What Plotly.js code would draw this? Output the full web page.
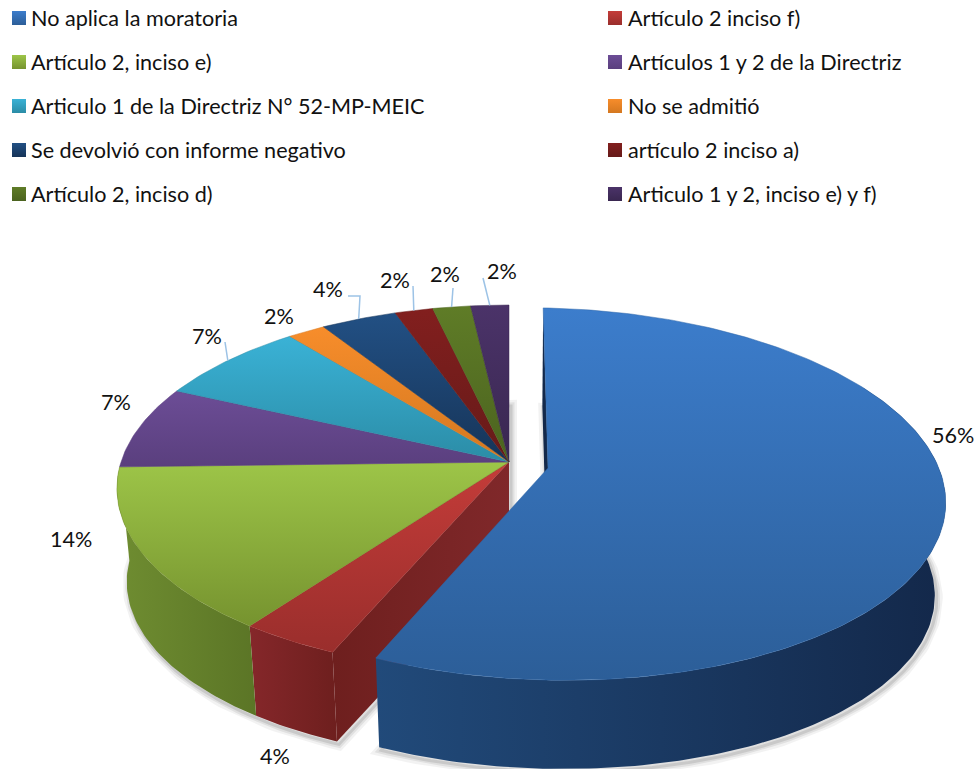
<!DOCTYPE html>
<html>
<head>
<meta charset="utf-8">
<script src="https://cdn.plot.ly/plotly-3.0.1.min.js"></script>
<style>html,body{margin:0;padding:0;background:#fff}#c{width:976px;height:769px}</style>
</head>
<body>
<div id="c"></div>
<script>
// ---------- data ----------
const categories = ["No aplica la moratoria","Artículo 2 inciso f)","Artículo 2, inciso e)","Artículos 1 y 2 de la Directriz","Articulo 1 de la Directriz N° 52-MP-MEIC","No se admitió","Se devolvió con informe negativo","artículo 2 inciso a)","Artículo 2, inciso d)","Articulo 1 y 2, inciso e) y f)"];
const values = [56.4,3.6,14.5,7.3,7.3,1.8,3.6,1.8,1.8,1.8];
const percentLabels = ["56%","4%","14%","7%","7%","2%","4%","2%","2%","2%"];

// ---------- styles ----------
const topLight = ["#3C7DCC","#C43C39","#9DC548","#6C4D96","#3AB2D6","#F78D2B","#225084","#821F1E","#5F7C27","#4B3369"];
const topDark  = ["#2C5E98","#9A2E2C","#76932F","#5A3F7E","#2B8CA6","#D47820","#163458","#661A19","#4B631F","#392750"];
const sideLight = ["#214A7A","#85272A","#6F8D31"];
const sideDark  = ["#13284A","#6E1F1E","#5B7526"];
const leaderColor = "#9DC3E6";
const textFont = {family:"Lato, Carlito, sans-serif", size:21.6, color:"#111"};

// ---------- geometry ----------
const total = values.reduce((a,b)=>a+b,0);
const cum = [0]; values.forEach((v,i)=>cum.push(cum[i]+v/total*360));
const mainG = {cx:509, cy:462, rx:388, ry:179.6, k:0.144, sh:0, ty:0};
const blueG = {cx:548, cy:468, rx:393, ry:182.5, k:0.14, sh:0.014, ty:6};
const DEPTH = 94, BS = 0.975, VX = 510;
function proj(g, deg, r, bottom){
  const a = deg*Math.PI/180, u = Math.sin(a)*r, v = Math.cos(a)*r;
  const s = 1/(1+g.k*v);
  let x = g.cx + g.rx*s*(u - g.sh*v), y = g.cy - g.ry*v*s + g.ty*u;
  if(bottom){ x = VX + (x-VX)*BS; y = g.cy + (y-g.cy)*BS + DEPTH; }
  return [x,y];
}
function arc(g,a0,a1,bottom){
  const n = Math.max(2,Math.ceil(Math.abs(a1-a0))), out=[];
  for(let i=0;i<=n;i++) out.push(proj(g,a0+(a1-a0)*i/n,1,bottom));
  return out;
}
function poly(pts, name, fill, extra){
  return Object.assign({type:"scatter",mode:"lines",x:pts.map(p=>p[0]),y:pts.map(p=>p[1]),
    fill:"toself",line:{width:0},fillcolor:"rgba(0,0,0,0)",name:name,hoverinfo:"skip",showlegend:false},fill,extra||{});
}
const grad = (type,c0,c1)=>({fillgradient:{type:type,colorscale:[[0,c0],[1,c1]]}});
const close = p=>p.concat([p[0]]);
const traces = [];

// soft shadows from the bottom planes
function shadow(g,a0,a1,name){
  const pts = close([proj(g,0,0,true)].concat(arc(g,a0,a1,true))).map(p=>[p[0]+2,p[1]+3]);
  [[12,0.05],[7,0.07],[3,0.10]].forEach(([w,o])=>{
    traces.push({type:"scatter",mode:"lines",x:pts.map(p=>p[0]),y:pts.map(p=>p[1]),
      line:{width:w,color:"rgba(0,0,0,"+o+")"},hoverinfo:"skip",showlegend:false,name:name});
  });
}
shadow(mainG,cum[1],360,"sombra");
shadow(blueG,0,cum[1],"sombra");

// main group: cut face of the red slice, outer walls
const apexT = proj(mainG,0,0,false), apexB = proj(mainG,0,0,true);
const c1T = proj(mainG,cum[1],1,false), c1B = proj(mainG,cum[1],1,true);
traces.push(poly([apexT,c1T,c1B,apexB,apexT],categories[1],grad("horizontal",sideDark[1],"#80282A")));
traces.push(poly(close(arc(mainG,cum[1],cum[2],false).concat(arc(mainG,cum[2],cum[1],true))),categories[1],grad("horizontal",sideLight[1],sideDark[1])));
traces.push(poly(close(arc(mainG,cum[2],Math.min(cum[3],285),false).concat(arc(mainG,Math.min(cum[3],285),cum[2],true))),categories[2],grad("horizontal",sideLight[2],sideDark[2])));
// main group: top faces
for(let i=1;i<values.length;i++){
  const pts = close([apexT].concat(arc(mainG,cum[i],cum[i+1],false)));
  traces.push(poly(pts,categories[i],grad("vertical",topDark[i],topLight[i]),{line:{width:0.5,color:topDark[i]}}));
}
// blue slice: back cut face, outer wall, top face
const bA = proj(blueG,0,0,false), bAB = proj(blueG,0,0,true), b0 = proj(blueG,0,1,false), b0B = proj(blueG,0,1,true);
traces.push(poly([b0,bA,bAB,b0B,b0],categories[0],{fillcolor:"#14294A"}));
traces.push(poly(close(arc(blueG,60,cum[1],false).concat(arc(blueG,cum[1],60,true))),categories[0],grad("horizontal",sideLight[0],sideDark[0])));
traces.push(poly(close([bA].concat(arc(blueG,0,cum[1],false))),categories[0],grad("vertical",topDark[0],topLight[0]),{line:{width:0.5,color:"#2F66A8"}}));

// legend squares
const legendRows = [18,62,106,150,194], legendCols = [19,615], legendTextX = [30,627];
const pos = categories.map((c,i)=>({col:i%2,row:Math.floor(i/2)}));
traces.push({type:"scatter",mode:"markers",x:pos.map(p=>legendCols[p.col]),y:pos.map(p=>legendRows[p.row]),
  marker:{symbol:"square",size:14,color:topLight,gradient:{type:"vertical",color:topDark},line:{width:0}},
  hoverinfo:"skip",showlegend:false,name:"leyenda"});

// leader lines
const leaderEnds = {4:[[225,342]],6:[[348,296],[360,296]],7:[[413,286]],8:[[453,288]],9:[[483,278]]};
Object.keys(leaderEnds).forEach(k=>{
  const i=+k, a=(cum[i]+cum[i+1])/2, e=proj(mainG,a,1,false);
  const pts=leaderEnds[k].concat([e]);
  traces.push({type:"scatter",mode:"lines",x:pts.map(p=>p[0]),y:pts.map(p=>p[1]),line:{width:1.5,color:leaderColor},hoverinfo:"skip",showlegend:false,name:"guía"});
});

// text
const labelPos = [[953,435],[275,756],[71,539],[116,402],[207,336],[279,316],[328,289],[395,280],[445,274],[502,271]];
const annotations = [];
categories.forEach((c,i)=>annotations.push({x:legendTextX[pos[i].col],y:legendRows[pos[i].row],text:c,xanchor:"left",yanchor:"middle",showarrow:false,font:textFont,borderpad:0}));
percentLabels.forEach((t,i)=>annotations.push({x:labelPos[i][0],y:labelPos[i][1],text:t,xanchor:"center",yanchor:"middle",showarrow:false,font:textFont,borderpad:0}));

Plotly.newPlot("c",traces,{
  width:976,height:769,margin:{l:0,r:0,t:0,b:0},paper_bgcolor:"#fff",plot_bgcolor:"#fff",showlegend:false,
  xaxis:{range:[0,976],visible:false,fixedrange:true},
  yaxis:{range:[769,0],visible:false,fixedrange:true},
  annotations:annotations
},{displayModeBar:false,staticPlot:true});
</script>
</body>
</html>
